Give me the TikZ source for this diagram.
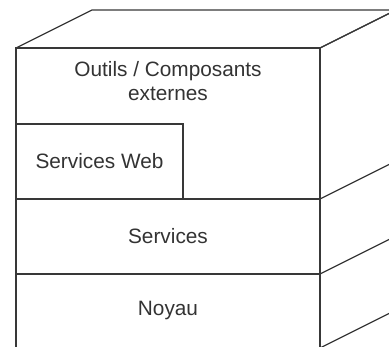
\documentclass[tikz,border=0pt]{standalone}
\usepackage{fontspec}
\setmainfont{Liberation Sans}
\begin{document}
\begin{tikzpicture}[x=1pt, y=-1pt, line width=1.2pt, draw=black!78,
    layer/.style={font=\fontsize{20.8}{24}\selectfont, text=black!80, align=center}]
    \useasboundingbox (0,0) rectangle (389,347);
    \clip (0,0) rectangle (389,347);

    \coordinate (a) at (16,48);   % front top left
    \coordinate (b) at (320,48);  % front top right
    \coordinate (c) at (320,199);
    \coordinate (d) at (320,274);
    \coordinate (e) at (320,348);
    \coordinate (g) at (16,199);
    \coordinate (h) at (16,274);
    \coordinate (w) at (183,124); % web services corner

    % front face and layers
    \draw (a) rectangle (e);
    \draw (g)--(c);
    \draw (h)--(d);
    \draw (g) rectangle (w);

    % depth of the block
    \draw (a) -- ++(76,-38) -- ++(304,0) -- (b);
    \foreach \p in {b,c,d,e}
        \draw (\p) -- ++(76,-38);

    \node[layer] (outils) at (168,81) {Outils / Composants\\externes};
    \node[layer] (web) at (99.5,161.5) {Services Web};
    \node[layer] (services) at (168,236.5) {Services};
    \node[layer] (noyau) at (168,311) {Noyau};
\end{tikzpicture}
\end{document}
